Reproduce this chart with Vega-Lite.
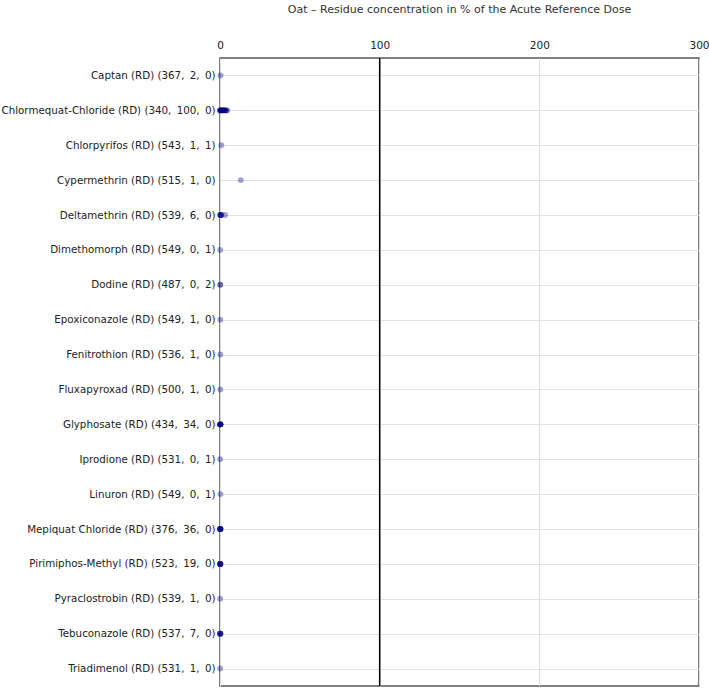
{
  "$schema": "https://vega.github.io/schema/vega-lite/v6.json",
  "width": 479,
  "height": 628,
  "autosize": {"type": "none"},
  "padding": {"left": 220, "top": 58, "right": 10, "bottom": 3},
  "background": "white",
  "config": {
    "font": "DejaVu Sans",
    "view": {"stroke": "#555555", "strokeWidth": 1.5}
  },
  "title": {
    "text": "Oat – Residue concentration in % of the Acute Reference Dose",
    "fontSize": 11,
    "fontWeight": "normal",
    "color": "#333333",
    "offset": 25
  },
  "datasets": {
    "pts": [
      {"label": "Captan (RD) (367, \u20092, \u20090)", "value": 0.3},
      {"label": "Chlormequat-Chloride (RD) (340, \u2009100, \u20090)", "value": 0},
      {"label": "Chlormequat-Chloride (RD) (340, \u2009100, \u20090)", "value": 0},
      {"label": "Chlormequat-Chloride (RD) (340, \u2009100, \u20090)", "value": 0.2},
      {"label": "Chlormequat-Chloride (RD) (340, \u2009100, \u20090)", "value": 0.4},
      {"label": "Chlormequat-Chloride (RD) (340, \u2009100, \u20090)", "value": 0.6},
      {"label": "Chlormequat-Chloride (RD) (340, \u2009100, \u20090)", "value": 0.8},
      {"label": "Chlormequat-Chloride (RD) (340, \u2009100, \u20090)", "value": 1.0},
      {"label": "Chlormequat-Chloride (RD) (340, \u2009100, \u20090)", "value": 1.2},
      {"label": "Chlormequat-Chloride (RD) (340, \u2009100, \u20090)", "value": 1.5},
      {"label": "Chlormequat-Chloride (RD) (340, \u2009100, \u20090)", "value": 1.8},
      {"label": "Chlormequat-Chloride (RD) (340, \u2009100, \u20090)", "value": 2.0},
      {"label": "Chlormequat-Chloride (RD) (340, \u2009100, \u20090)", "value": 2.3},
      {"label": "Chlormequat-Chloride (RD) (340, \u2009100, \u20090)", "value": 2.6},
      {"label": "Chlormequat-Chloride (RD) (340, \u2009100, \u20090)", "value": 3.0},
      {"label": "Chlormequat-Chloride (RD) (340, \u2009100, \u20090)", "value": 3.3},
      {"label": "Chlormequat-Chloride (RD) (340, \u2009100, \u20090)", "value": 3.6},
      {"label": "Chlormequat-Chloride (RD) (340, \u2009100, \u20090)", "value": 4.0},
      {"label": "Chlormequat-Chloride (RD) (340, \u2009100, \u20090)", "value": 4.5},
      {"label": "Chlorpyrifos (RD) (543, \u20091, \u20091)", "value": 0.8},
      {"label": "Cypermethrin (RD) (515, \u20091, \u20090)", "value": 13},
      {"label": "Deltamethrin (RD) (539, \u20096, \u20090)", "value": 0},
      {"label": "Deltamethrin (RD) (539, \u20096, \u20090)", "value": 0.2},
      {"label": "Deltamethrin (RD) (539, \u20096, \u20090)", "value": 0.4},
      {"label": "Deltamethrin (RD) (539, \u20096, \u20090)", "value": 0.6},
      {"label": "Deltamethrin (RD) (539, \u20096, \u20090)", "value": 0.8},
      {"label": "Deltamethrin (RD) (539, \u20096, \u20090)", "value": 3.2},
      {"label": "Dimethomorph (RD) (549, \u20090, \u20091)", "value": 0.1},
      {"label": "Dodine (RD) (487, \u20090, \u20092)", "value": 0.1},
      {"label": "Dodine (RD) (487, \u20090, \u20092)", "value": 0.2},
      {"label": "Epoxiconazole (RD) (549, \u20091, \u20090)", "value": 0.2},
      {"label": "Fenitrothion (RD) (536, \u20091, \u20090)", "value": 0.2},
      {"label": "Fluxapyroxad (RD) (500, \u20091, \u20090)", "value": 0.2},
      {"label": "Glyphosate (RD) (434, \u200934, \u20090)", "value": 0},
      {"label": "Glyphosate (RD) (434, \u200934, \u20090)", "value": 0.1},
      {"label": "Glyphosate (RD) (434, \u200934, \u20090)", "value": 0.1},
      {"label": "Glyphosate (RD) (434, \u200934, \u20090)", "value": 0.2},
      {"label": "Glyphosate (RD) (434, \u200934, \u20090)", "value": 0.2},
      {"label": "Glyphosate (RD) (434, \u200934, \u20090)", "value": 0.3},
      {"label": "Glyphosate (RD) (434, \u200934, \u20090)", "value": 0.4},
      {"label": "Iprodione (RD) (531, \u20090, \u20091)", "value": 0.1},
      {"label": "Linuron (RD) (549, \u20090, \u20091)", "value": 0.3},
      {"label": "Mepiquat Chloride (RD) (376, \u200936, \u20090)", "value": 0},
      {"label": "Mepiquat Chloride (RD) (376, \u200936, \u20090)", "value": 0.1},
      {"label": "Mepiquat Chloride (RD) (376, \u200936, \u20090)", "value": 0.1},
      {"label": "Mepiquat Chloride (RD) (376, \u200936, \u20090)", "value": 0.2},
      {"label": "Mepiquat Chloride (RD) (376, \u200936, \u20090)", "value": 0.2},
      {"label": "Mepiquat Chloride (RD) (376, \u200936, \u20090)", "value": 0.3},
      {"label": "Mepiquat Chloride (RD) (376, \u200936, \u20090)", "value": 0.4},
      {"label": "Pirimiphos-Methyl (RD) (523, \u200919, \u20090)", "value": 0},
      {"label": "Pirimiphos-Methyl (RD) (523, \u200919, \u20090)", "value": 0.1},
      {"label": "Pirimiphos-Methyl (RD) (523, \u200919, \u20090)", "value": 0.1},
      {"label": "Pirimiphos-Methyl (RD) (523, \u200919, \u20090)", "value": 0.2},
      {"label": "Pirimiphos-Methyl (RD) (523, \u200919, \u20090)", "value": 0.2},
      {"label": "Pirimiphos-Methyl (RD) (523, \u200919, \u20090)", "value": 0.3},
      {"label": "Pyraclostrobin (RD) (539, \u20091, \u20090)", "value": 0.1},
      {"label": "Tebuconazole (RD) (537, \u20097, \u20090)", "value": 0},
      {"label": "Tebuconazole (RD) (537, \u20097, \u20090)", "value": 0.1},
      {"label": "Tebuconazole (RD) (537, \u20097, \u20090)", "value": 0.2},
      {"label": "Tebuconazole (RD) (537, \u20097, \u20090)", "value": 0.2},
      {"label": "Tebuconazole (RD) (537, \u20097, \u20090)", "value": 0.3},
      {"label": "Triadimenol (RD) (531, \u20091, \u20090)", "value": 0.1}
    ],
    "ref": [{"value": 100}]
  },
  "layer": [
    {
      "data": {"name": "ref"},
      "mark": {"type": "rule", "color": "#000000", "strokeWidth": 1.5},
      "encoding": {"x": {"field": "value", "type": "quantitative"}}
    },
    {
      "data": {"name": "pts"},
      "mark": {"type": "circle", "size": 35, "color": "#000080", "opacity": 0.36},
      "encoding": {
        "x": {
          "field": "value",
          "type": "quantitative",
          "scale": {"domain": [0, 300], "nice": false, "zero": true},
          "axis": {
            "orient": "top",
            "title": null,
            "values": [0, 100, 200, 300],
            "domain": false,
            "ticks": false,
            "labelPadding": 8,
            "labelFontSize": 10.5,
            "labelColor": "#222222",
            "grid": true,
            "gridColor": "#dddddd",
            "labelFlush": false
          }
        },
        "y": {
          "field": "label",
          "type": "nominal",
          "sort": null,
          "scale": {"type": "point", "padding": 0.5},
          "axis": {
            "title": null,
            "domain": false,
            "ticks": false,
            "labelPadding": 5,
            "labelFontSize": 10.3,
            "labelColor": "#222222",
            "grid": true,
            "gridColor": "#e2e2e2",
            "labelLimit": 0
          }
        }
      }
    }
  ]
}
